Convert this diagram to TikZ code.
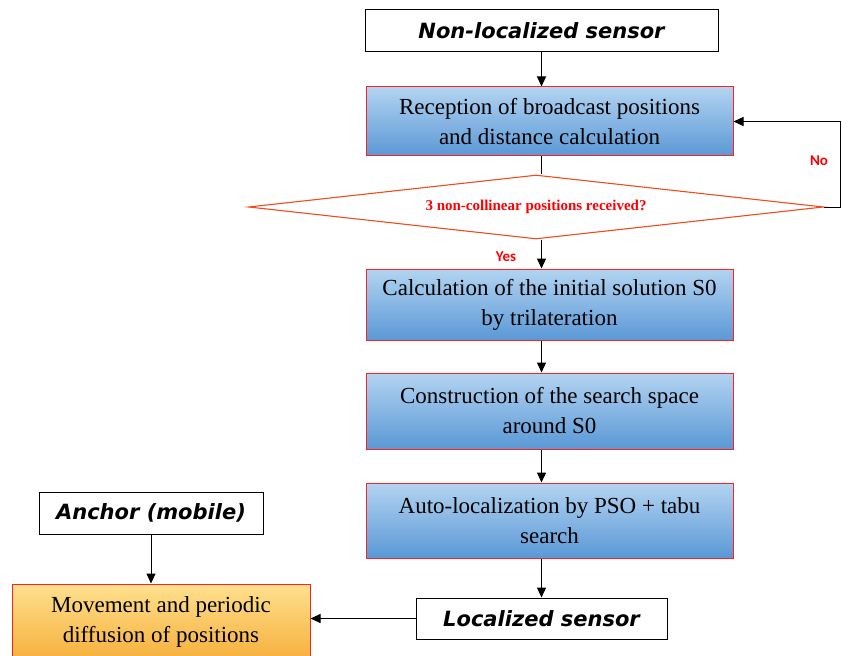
\documentclass[tikz,border=0pt]{standalone}
\usepackage{fontspec}
\setmainfont{Liberation Serif}
\newfontfamily\hdrfont{DejaVu Sans}
\newfontfamily\lblfont{Carlito}
\usetikzlibrary{shapes.geometric,arrows.meta}
\definecolor{blueTop}{HTML}{B3D4F1}
\definecolor{blueBot}{HTML}{5A98D6}
\definecolor{orangeTop}{HTML}{FFE08E}
\definecolor{orangeBot}{HTML}{F6B03C}
\definecolor{diaLine}{HTML}{F04A1E}
\definecolor{redText}{HTML}{FF0000}
\definecolor{boxRed}{HTML}{FF2020}
\tikzset{
  bluebox/.style={draw=boxRed, line width=1pt, top color=blueTop, bottom color=blueBot,
    align=center, inner sep=0pt, font=\fontsize{23}{30}\selectfont, minimum width=367pt, text=black},
  orangebox/.style={draw=boxRed, line width=1pt, top color=orangeTop, bottom color=orangeBot,
    align=center, inner sep=0pt, font=\fontsize{23}{30}\selectfont, text=black},
  hdr/.style={draw=black, line width=1pt, fill=white, inner sep=0pt,
    font=\hdrfont\bfseries\itshape\fontsize{21}{24}\selectfont},
  decision/.style={diamond, aspect=9, draw=diaLine, line width=1.1pt, fill=white, inner sep=0pt,
    minimum width=575pt, minimum height=64pt, text=redText, font=\bfseries\fontsize{15}{17}\selectfont},
  arr/.style={-{Triangle[length=10pt,width=9pt]}, line width=1pt},
  plain/.style={line width=1pt},
  lbl/.style={text=redText, font=\lblfont\bfseries\fontsize{15}{18}\selectfont, inner sep=0pt}
}
\begin{document}
\begin{tikzpicture}[x=1pt,y=-1pt]
\useasboundingbox (0,0) rectangle (842,655);
\fill[white] (0,0) rectangle (842,655);
\clip (0,0) rectangle (842,655);

\node[hdr, minimum width=353pt, minimum height=42pt] (nonloc) at (541.5,31) {Non-localized sensor};
\node[bluebox, minimum height=69pt] (recep) at (549.5,121.5) {Reception of broadcast positions\\and distance calculation};
\node[decision] (dec) at (536,207) {3 non-collinear positions received?};
\node[bluebox, minimum height=71pt] (calc) at (549.5,304.5) {Calculation of the initial solution S0\\by trilateration};
\node[bluebox, minimum height=76pt] (cons) at (549.5,411) {Construction of the search space\\around S0};
\node[bluebox, minimum height=75pt] (auto) at (549.5,520.5) {Auto-localization by PSO + tabu\\search};
\node[hdr, minimum width=251pt, minimum height=41pt] (loc) at (541.5,618.5) {Localized sensor};
\node[hdr, minimum width=224pt, minimum height=42pt] (anchor) at (151,513) {Anchor (mobile)};
\node[orangebox, minimum width=298pt, minimum height=76pt] (move) at (161,622) {Movement and periodic\\diffusion of positions};

\node[lbl] (yes) at (506,257) {Yes};
\node[lbl] (no) at (819,161) {No};
\coordinate (fb) at (840,207);

\draw[arr] (nonloc.south) -- (nonloc.south |- recep.north);
\draw[plain] (recep.south -| nonloc.south) -- (nonloc.south |- dec.north);
\draw[arr] (nonloc.south |- dec.south) -- (nonloc.south |- calc.north);
\draw[arr] (dec.east) -- (fb) |- (recep.east);
\draw[arr] (calc.south -| nonloc.south) -- (nonloc.south |- cons.north);
\draw[arr] (cons.south -| nonloc.south) -- (nonloc.south |- auto.north);
\draw[arr] (auto.south -| loc.north) -- (loc.north);
\draw[arr] (loc.west) -- (loc.west -| move.east);
\draw[arr] (anchor.south) -- (anchor.south |- move.north);
\end{tikzpicture}
\end{document}
